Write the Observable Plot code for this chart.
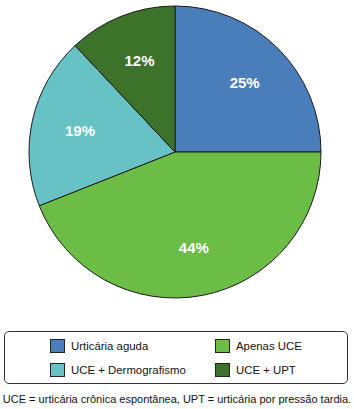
<!DOCTYPE html>
<html>
<head>
<meta charset="utf-8">
<script src="https://cdn.jsdelivr.net/npm/d3@7"></script>
<script src="https://cdn.jsdelivr.net/npm/@observablehq/plot@0.6"></script>
<style>
  html, body { margin: 0; padding: 0; background: #fff; }
  body { width: 354px; height: 409px; overflow: hidden; font-family: "Liberation Sans", Arial, Helvetica, sans-serif; }
  #chart svg { display: block; }
  .legend {
    box-sizing: border-box;
    position: relative;
    margin: 11px 0 0 4px;
    width: 344px; height: 53px;
    border: 1px solid #333;
    border-radius: 5px;
  }
  .item { position: absolute; display: flex; align-items: center; font-size: 11.4px; color: #111; }
  .sw { box-sizing: border-box; width: 15px; height: 14px; border: 1px solid #222; margin-right: 6px; }
  .caption { margin-top: 9px; text-align: center; font-size: 11px; color: #111; white-space: nowrap; }
</style>
</head>
<body>
<div id="chart"></div>
<script>
const categories = ["Urticária aguda", "Apenas UCE", "UCE + Dermografismo", "UCE + UPT"];
const values = [25, 44, 19, 12];
const labels = ["25%", "44%", "19%", "12%"];
const colors = ["#4a7ebb", "#6bbd46", "#66c2c5", "#3c7229"];
const caption = "UCE = urticária crônica espontânea, UPT = urticária por pressão tardia.";

const data = categories.map((c, i) => ({category: c, value: values[i], label: labels[i], color: colors[i]}));
const arcs = d3.pie().sort(null).value(d => d.value)(data);
const labelData = arcs.map(a => {
  const mid = (a.startAngle + a.endAngle) / 2;
  return {label: a.data.label, x: Math.sin(mid) * 0.67, y: Math.cos(mid) * 0.67};
});

function pieMark(index, scales, values, dimensions, context) {
  const cx = scales.x(0), cy = scales.y(0);
  const r = scales.x(1) - scales.x(0);
  const arc = d3.arc().innerRadius(0).outerRadius(r);
  const g = d3.create("svg:g").attr("transform", `translate(${cx},${cy})`);
  g.selectAll("path").data(arcs).join("path")
    .attr("d", arc)
    .attr("fill", d => d.data.color)
    .attr("stroke", "#1a1a1a")
    .attr("stroke-width", 1)
    .attr("stroke-linejoin", "round");
  return g.node();
}

const plot = Plot.plot({
  width: 354,
  height: 320,
  marginLeft: 29,
  marginRight: 33,
  marginTop: 6,
  marginBottom: 22,
  x: {domain: [-1, 1], axis: null},
  y: {domain: [-1, 1], axis: null},
  style: {background: "#fff", fontFamily: "'Liberation Sans', Arial, Helvetica, sans-serif"},
  marks: [
    pieMark,
    Plot.text(labelData, {x: "x", y: "y", text: "label", fill: "white", fontSize: 15, fontWeight: "bold"})
  ]
});
document.getElementById("chart").appendChild(plot);

const legend = document.createElement("div");
legend.className = "legend";
const pos = [[45, 7], [210, 7], [45, 31], [210, 31]];
data.forEach((d, i) => {
  const it = document.createElement("div");
  it.className = "item";
  it.style.left = pos[i][0] + "px";
  it.style.top = pos[i][1] + "px";
  const sw = document.createElement("div");
  sw.className = "sw";
  sw.style.background = d.color;
  const t = document.createElement("span");
  t.textContent = d.category;
  it.appendChild(sw); it.appendChild(t);
  legend.appendChild(it);
});
document.body.appendChild(legend);

const cap = document.createElement("div");
cap.className = "caption";
cap.textContent = caption;
document.body.appendChild(cap);
</script>
</body>
</html>
